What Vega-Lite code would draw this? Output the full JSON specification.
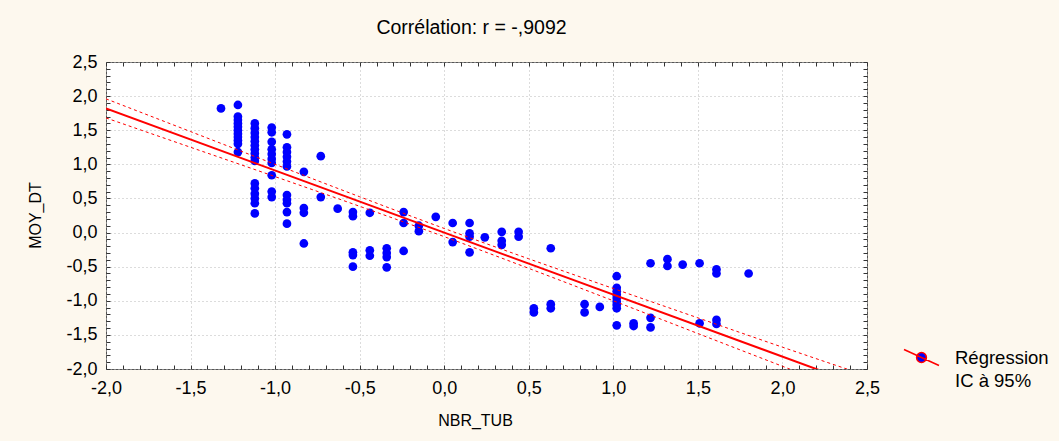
{
  "$schema": "https://vega.github.io/schema/vega-lite/v6.json",
  "width": 761,
  "height": 307,
  "autosize": {"type": "none"},
  "padding": {"left": 106, "top": 62, "right": 192, "bottom": 72},
  "background": "#FDF8EE",
  "title": {"text": "Corrélation: r = -,9092", "fontSize": 19.5, "font": "Liberation Sans", "fontWeight": "normal", "color": "black", "anchor": "middle", "dx": -15, "offset": 15},
  "config": {
    "view": {"fill": "white", "stroke": "#555555", "strokeWidth": 1},
    "font": "Liberation Sans",
    "axis": {"domain": false, "labelFont": "Liberation Sans", "labelFontSize": 18, "labelColor": "black", "tickColor": "#333333", "tickSize": -4, "labelOverlap": false, "labelFlush": false, "labelBound": false, "titleFont": "Liberation Sans", "titleFontSize": 16, "titleFontWeight": "normal", "titleColor": "black"}
  },
  "datasets": {
    "pts": [
      {"x": -1.32, "y": 1.82},
      {"x": -1.22, "y": 1.87}, {"x": -1.22, "y": 1.70}, {"x": -1.22, "y": 1.65}, {"x": -1.22, "y": 1.60}, {"x": -1.22, "y": 1.55}, {"x": -1.22, "y": 1.50}, {"x": -1.22, "y": 1.45}, {"x": -1.22, "y": 1.40}, {"x": -1.22, "y": 1.35}, {"x": -1.22, "y": 1.30}, {"x": -1.22, "y": 1.18},
      {"x": -1.12, "y": 1.60}, {"x": -1.12, "y": 1.53}, {"x": -1.12, "y": 1.46}, {"x": -1.12, "y": 1.40}, {"x": -1.12, "y": 1.34}, {"x": -1.12, "y": 1.28}, {"x": -1.12, "y": 1.22}, {"x": -1.12, "y": 1.16}, {"x": -1.12, "y": 1.10}, {"x": -1.12, "y": 1.05},
      {"x": -1.12, "y": 0.72}, {"x": -1.12, "y": 0.65}, {"x": -1.12, "y": 0.57}, {"x": -1.12, "y": 0.50}, {"x": -1.12, "y": 0.43}, {"x": -1.12, "y": 0.28},
      {"x": -1.02, "y": 1.54}, {"x": -1.02, "y": 1.47}, {"x": -1.02, "y": 1.33}, {"x": -1.02, "y": 1.22}, {"x": -1.02, "y": 1.15}, {"x": -1.02, "y": 1.08}, {"x": -1.02, "y": 1.02}, {"x": -1.02, "y": 0.84}, {"x": -1.02, "y": 0.60}, {"x": -1.02, "y": 0.52},
      {"x": -0.93, "y": 1.44}, {"x": -0.93, "y": 1.25}, {"x": -0.93, "y": 1.18}, {"x": -0.93, "y": 1.11}, {"x": -0.93, "y": 1.04}, {"x": -0.93, "y": 0.97}, {"x": -0.93, "y": 0.55}, {"x": -0.93, "y": 0.48}, {"x": -0.93, "y": 0.43}, {"x": -0.93, "y": 0.30}, {"x": -0.93, "y": 0.13},
      {"x": -0.83, "y": 0.89}, {"x": -0.83, "y": 0.36}, {"x": -0.83, "y": 0.29}, {"x": -0.83, "y": -0.16},
      {"x": -0.73, "y": 1.12}, {"x": -0.73, "y": 0.52},
      {"x": -0.63, "y": 0.35},
      {"x": -0.54, "y": 0.30}, {"x": -0.54, "y": 0.24}, {"x": -0.54, "y": -0.29}, {"x": -0.54, "y": -0.33}, {"x": -0.54, "y": -0.50},
      {"x": -0.44, "y": 0.29}, {"x": -0.44, "y": -0.26}, {"x": -0.44, "y": -0.34},
      {"x": -0.34, "y": -0.23}, {"x": -0.34, "y": -0.30}, {"x": -0.34, "y": -0.36}, {"x": -0.34, "y": -0.51},
      {"x": -0.24, "y": 0.30}, {"x": -0.24, "y": 0.14}, {"x": -0.24, "y": -0.27},
      {"x": -0.15, "y": 0.10}, {"x": -0.15, "y": 0.02},
      {"x": -0.05, "y": 0.23},
      {"x": 0.05, "y": 0.14}, {"x": 0.05, "y": -0.14},
      {"x": 0.15, "y": 0.14}, {"x": 0.15, "y": -0.01}, {"x": 0.15, "y": -0.06}, {"x": 0.15, "y": -0.29},
      {"x": 0.24, "y": -0.07},
      {"x": 0.34, "y": 0.01}, {"x": 0.34, "y": -0.12}, {"x": 0.34, "y": -0.18},
      {"x": 0.44, "y": 0.01}, {"x": 0.44, "y": -0.06},
      {"x": 0.63, "y": -0.23},
      {"x": 0.53, "y": -1.11}, {"x": 0.53, "y": -1.17},
      {"x": 0.63, "y": -1.05}, {"x": 0.63, "y": -1.11},
      {"x": 0.83, "y": -1.05}, {"x": 0.83, "y": -1.17},
      {"x": 0.92, "y": -1.09},
      {"x": 1.02, "y": -0.64}, {"x": 1.02, "y": -0.81}, {"x": 1.02, "y": -0.86}, {"x": 1.02, "y": -0.91}, {"x": 1.02, "y": -0.96}, {"x": 1.02, "y": -1.01}, {"x": 1.02, "y": -1.06}, {"x": 1.02, "y": -1.11}, {"x": 1.02, "y": -1.36},
      {"x": 1.12, "y": -1.33}, {"x": 1.12, "y": -1.37},
      {"x": 1.22, "y": -0.45}, {"x": 1.22, "y": -1.25}, {"x": 1.22, "y": -1.39},
      {"x": 1.32, "y": -0.39}, {"x": 1.32, "y": -0.49},
      {"x": 1.41, "y": -0.47},
      {"x": 1.51, "y": -0.45}, {"x": 1.51, "y": -1.33},
      {"x": 1.61, "y": -0.54}, {"x": 1.61, "y": -0.60}, {"x": 1.61, "y": -1.28}, {"x": 1.61, "y": -1.34},
      {"x": 1.80, "y": -0.60}
    ],
    "reg": [
      {"x": -2.0, "y": 1.818},
      {"x": 2.5, "y": -2.273}
    ],
    "ci": [
      {"band": "haut", "x": -2.0, "y": 1.96}, {"band": "haut", "x": -1.5, "y": 1.48}, {"band": "haut", "x": -1.0, "y": 1.0}, {"band": "haut", "x": -0.5, "y": 0.525}, {"band": "haut", "x": 0.0, "y": 0.06}, {"band": "haut", "x": 0.5, "y": -0.385}, {"band": "haut", "x": 1.0, "y": -0.82}, {"band": "haut", "x": 1.5, "y": -1.25}, {"band": "haut", "x": 2.0, "y": -1.68}, {"band": "haut", "x": 2.5, "y": -2.1},
      {"band": "bas", "x": -2.0, "y": 1.68}, {"band": "bas", "x": -1.5, "y": 1.25}, {"band": "bas", "x": -1.0, "y": 0.82}, {"band": "bas", "x": -0.5, "y": 0.385}, {"band": "bas", "x": 0.0, "y": -0.06}, {"band": "bas", "x": 0.5, "y": -0.525}, {"band": "bas", "x": 1.0, "y": -1.0}, {"band": "bas", "x": 1.5, "y": -1.48}, {"band": "bas", "x": 2.0, "y": -1.96}, {"band": "bas", "x": 2.5, "y": -2.44}
    ]
  },
  "resolve": {"axis": {"x": "independent", "y": "independent"}},
  "layer": [
    {
      "data": {"name": "pts"},
      "mark": {"type": "circle", "size": 76, "opacity": 1},
      "encoding": {
        "x": {"field": "x", "type": "quantitative", "scale": {"domain": [-2, 2.5], "nice": false, "zero": false},
          "axis": {"orient": "bottom", "values": [-2.0,-1.9,-1.8,-1.7,-1.6,-1.5,-1.4,-1.3,-1.2,-1.1,-1.0,-0.9,-0.8,-0.7,-0.6,-0.5,-0.4,-0.3,-0.2,-0.1,0,0.1,0.2,0.3,0.4,0.5,0.6,0.7,0.8,0.9,1.0,1.1,1.2,1.3,1.4,1.5,1.6,1.7,1.8,1.9,2.0,2.1,2.2,2.3,2.4,2.5],
            "labelExpr": "abs(datum.value*2 - round(datum.value*2)) < 0.01 ? replace(replace(format(datum.value, '.1f'), '.', ','), '\u2212', '-') : ''",
            "labelPadding": 14,
            "grid": true, "gridColor": "#b8b8b8", "gridDash": [1, 3], "gridWidth": 1,
            "gridOpacity": {"condition": {"test": "abs(datum.value*2 - round(datum.value*2)) > 0.01", "value": 0}, "value": 1},
            "title": "NBR_TUB", "titleX": 369, "titleY": 51, "titleBaseline": "middle", "titleAlign": "center"}},
        "y": {"field": "y", "type": "quantitative", "scale": {"domain": [-2, 2.5], "nice": false, "zero": false},
          "axis": {"orient": "left", "values": [-2.0,-1.9,-1.8,-1.7,-1.6,-1.5,-1.4,-1.3,-1.2,-1.1,-1.0,-0.9,-0.8,-0.7,-0.6,-0.5,-0.4,-0.3,-0.2,-0.1,0,0.1,0.2,0.3,0.4,0.5,0.6,0.7,0.8,0.9,1.0,1.1,1.2,1.3,1.4,1.5,1.6,1.7,1.8,1.9,2.0,2.1,2.2,2.3,2.4,2.5],
            "labelExpr": "abs(datum.value*2 - round(datum.value*2)) < 0.01 ? replace(replace(format(datum.value, '.1f'), '.', ','), '\u2212', '-') : ''",
            "labelPadding": 13,
            "grid": true, "gridColor": "#b8b8b8", "gridDash": [1, 3], "gridWidth": 1,
            "gridOpacity": {"condition": {"test": "abs(datum.value*2 - round(datum.value*2)) > 0.01", "value": 0}, "value": 1},
            "title": "MOY_DT", "titleX": -71, "titleY": 153, "titleAngle": -90, "titleBaseline": "middle", "titleAlign": "center"}},
        "color": {"datum": "Régression", "scale": {"domain": ["Régression"], "range": ["#0000FF"]},
          "legend": {"title": null, "orient": "none", "legendX": 797, "legendY": 277, "padding": 0,
            "symbolType": "M-1,-0.46L1,0.46M0.28,0A0.28,0.28 0 1,1 -0.28,0A0.28,0.28 0 1,1 0.28,0Z",
            "symbolSize": 1225, "symbolStrokeColor": "#FF0000", "symbolStrokeWidth": 1.5,
            "labelFont": "Liberation Sans", "labelFontSize": 18.5, "labelColor": "black", "labelOffset": 15}}
      }
    },
    {
      "data": {"name": "ci"},
      "mark": {"type": "line", "clip": true, "color": "#FF0000", "strokeWidth": 1, "interpolate": "monotone"},
      "encoding": {
        "x": {"field": "x", "type": "quantitative", "scale": {"domain": [-2, 2.5], "nice": false, "zero": false},
          "axis": {"orient": "top", "values": [-2.0,-1.9,-1.8,-1.7,-1.6,-1.5,-1.4,-1.3,-1.2,-1.1,-1.0,-0.9,-0.8,-0.7,-0.6,-0.5,-0.4,-0.3,-0.2,-0.1,0,0.1,0.2,0.3,0.4,0.5,0.6,0.7,0.8,0.9,1.0,1.1,1.2,1.3,1.4,1.5,1.6,1.7,1.8,1.9,2.0,2.1,2.2,2.3,2.4,2.5], "labels": false, "grid": false, "title": null}},
        "y": {"field": "y", "type": "quantitative", "scale": {"domain": [-2, 2.5], "nice": false, "zero": false},
          "axis": {"orient": "right", "values": [-2.0,-1.9,-1.8,-1.7,-1.6,-1.5,-1.4,-1.3,-1.2,-1.1,-1.0,-0.9,-0.8,-0.7,-0.6,-0.5,-0.4,-0.3,-0.2,-0.1,0,0.1,0.2,0.3,0.4,0.5,0.6,0.7,0.8,0.9,1.0,1.1,1.2,1.3,1.4,1.5,1.6,1.7,1.8,1.9,2.0,2.1,2.2,2.3,2.4,2.5], "labels": false, "grid": false, "title": null}},
        "detail": {"field": "band", "type": "nominal"},
        "strokeDash": {"datum": "IC à 95%", "scale": {"domain": ["IC à 95%"], "range": [[3, 3]]},
          "legend": {"title": null, "orient": "none", "legendX": 797, "legendY": 300, "padding": 0,
            "symbolType": "M-1,-0.46L1,0.46", "symbolSize": 1225, "symbolOpacity": 0,
            "labelFont": "Liberation Sans", "labelFontSize": 18.5, "labelColor": "black", "labelOffset": 15}}
      }
    },
    {
      "data": {"name": "reg"},
      "mark": {"type": "line", "clip": true, "color": "#FF0000", "strokeWidth": 2},
      "encoding": {
        "x": {"field": "x", "type": "quantitative", "scale": {"domain": [-2, 2.5], "nice": false, "zero": false}, "axis": null},
        "y": {"field": "y", "type": "quantitative", "scale": {"domain": [-2, 2.5], "nice": false, "zero": false}, "axis": null}
      }
    }
  ]
}
